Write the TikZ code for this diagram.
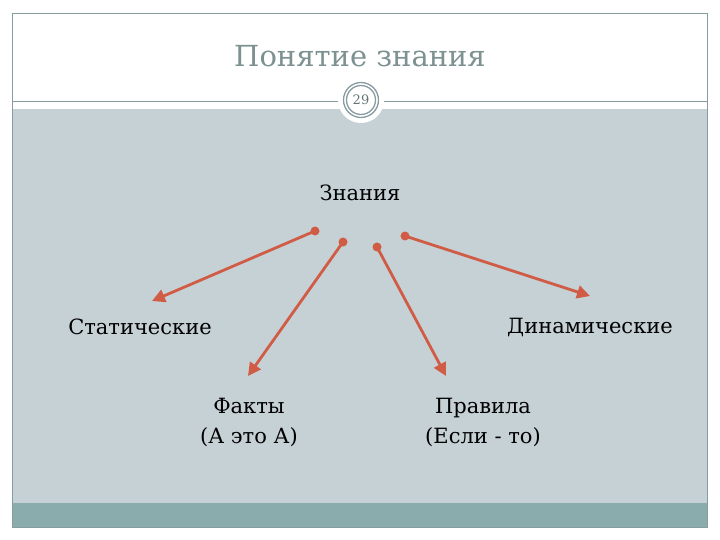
\documentclass[tikz,border=0pt]{standalone}
\usepackage{fontspec}
\setmainfont{DejaVu Serif}
\usetikzlibrary{arrows.meta}
\definecolor{bggray}{RGB}{198,209,214}
\definecolor{band}{RGB}{138,172,172}
\definecolor{framec}{RGB}{135,155,160}
\definecolor{titlec}{RGB}{125,145,145}
\definecolor{arr}{RGB}{208,92,70}
\tikzset{
  lbl/.style={font=\fontsize{21}{30}\selectfont, text=black, align=center, inner sep=0pt},
  conn/.style={draw=arr, line width=2.8pt, -{Triangle[length=13pt,width=13pt]}},
  startdot/.style={circle, fill=arr, inner sep=0pt, minimum size=9pt}
}
\begin{document}
\begin{tikzpicture}[x=1pt,y=-1pt]
\useasboundingbox (0,0) rectangle (720,540);
\fill[white] (0,0) rectangle (720,540);
\fill[bggray] (12,109) rectangle (707,503);
\fill[band] (12,503) rectangle (707,527);
\draw[framec, line width=0.8pt] (12,13) rectangle (707,527);
\draw[framec, line width=0.8pt] (12,101) -- (707,101);
\fill[white] (361,100) circle (23);
\draw[framec, line width=1.3pt] (361,100) circle (17.5);
\draw[framec, line width=1.3pt] (361,100) circle (14.5);
\node[font=\fontsize{13}{15}\selectfont, text=titlec!80!black] (num) at (361,100) {29};
\node[font=\fontsize{29}{34}\selectfont, text=titlec] (title) at (360,56) {Понятие знания};

\node[lbl] (zn) at (360,193) {Знания};
\node[lbl] (st) at (140,327) {Статические};
\node[lbl] (dn) at (590,327) {Динамические};
\node[lbl] (fk) at (249,422) {Факты\\(А это А)};
\node[lbl] (pr) at (483,422) {Правила\\(Если - то)};

\node[startdot] (s1) at (315,231) {};
\node[startdot] (s2) at (343,242) {};
\node[startdot] (s3) at (377,247) {};
\node[startdot] (s4) at (405,236) {};
\coordinate (e1) at (152,301);
\coordinate (e2) at (248,376);
\coordinate (e3) at (446,376);
\coordinate (e4) at (590,296);
\draw[conn] (s1.center) -- (e1);
\draw[conn] (s2.center) -- (e2);
\draw[conn] (s3.center) -- (e3);
\draw[conn] (s4.center) -- (e4);
\end{tikzpicture}
\end{document}
